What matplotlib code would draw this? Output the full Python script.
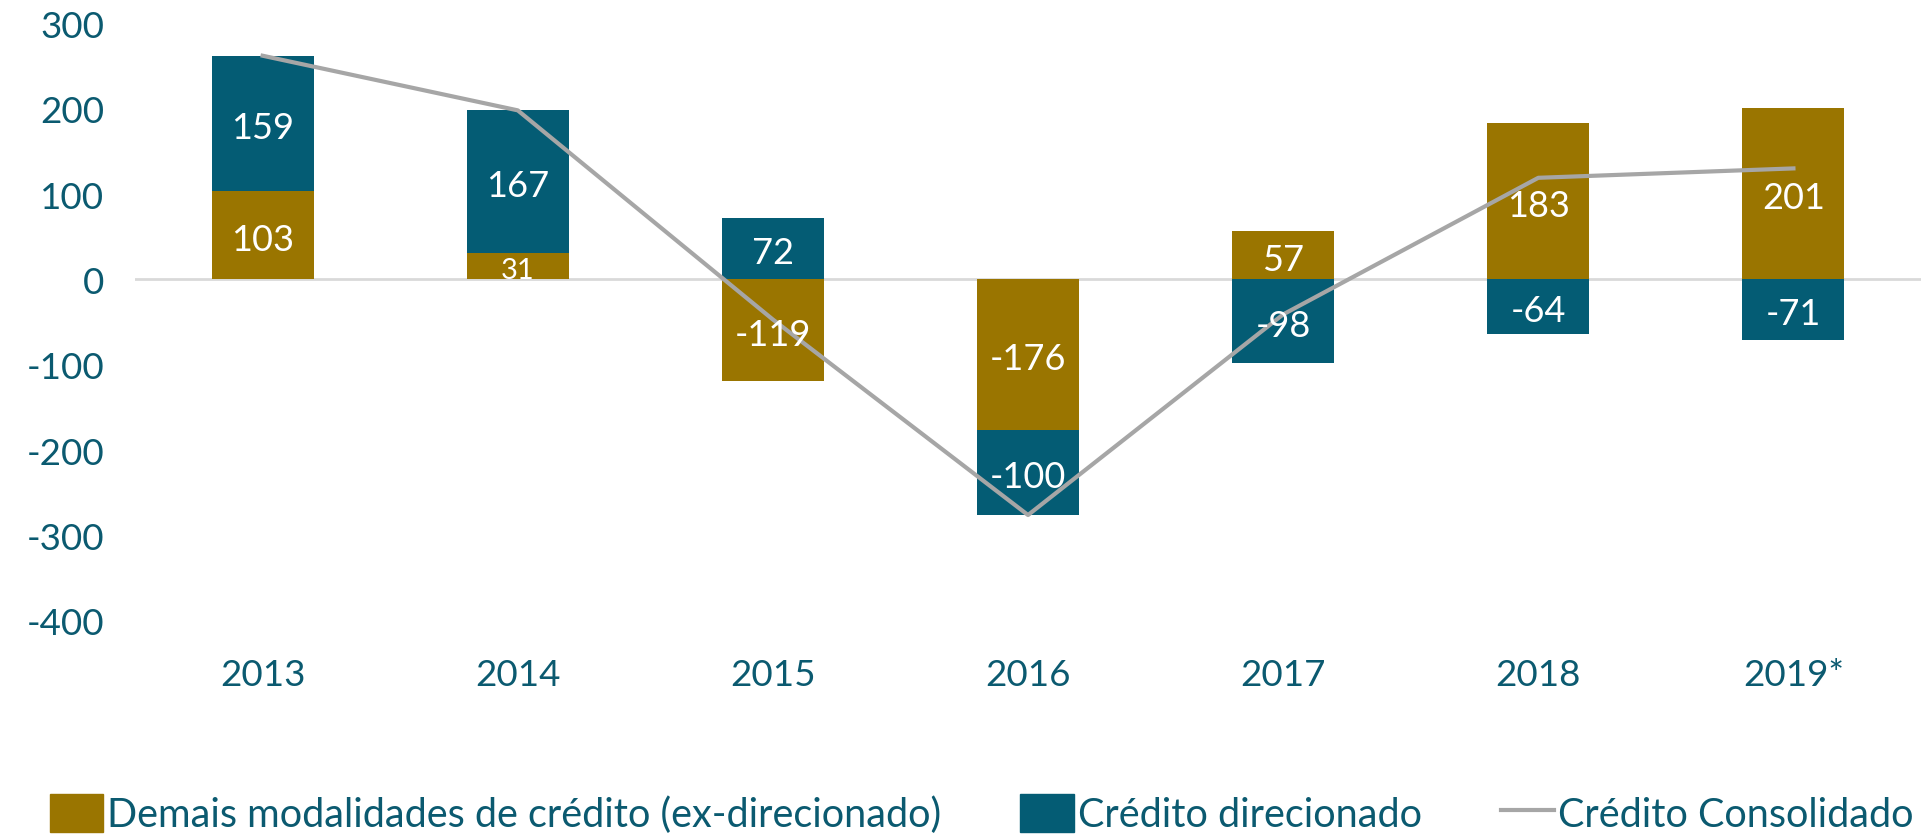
import matplotlib
matplotlib.use('Agg')
import matplotlib.pyplot as plt
from matplotlib.patches import Patch
from matplotlib.lines import Line2D
import numpy as np

# Dados do gráfico
anos = ['2013', '2014', '2015', '2016', '2017', '2018', '2019*']
demais = [103, 31, -119, -176, 57, 183, 201]
direcionado = [159, 167, 72, -100, -98, -64, -71]
consolidado = [262, 198, -47, -276, -41, 119, 130]

# Cores
gold = '#9A7500'
blue = '#045C74'
teal = '#0B5A70'
grey = '#A6A6A6'

plt.rcParams['font.family'] = ['Lato', 'DejaVu Sans']
plt.rcParams['axes.unicode_minus'] = False

fig = plt.figure(figsize=(19.21, 8.37), dpi=100)
ax = fig.add_axes([0.0703, 0.257, 0.9297, 0.714])

x = np.arange(len(anos))
w = 0.4
demais = np.array(demais)
direcionado = np.array(direcionado)

# empilhamento separado para positivos e negativos
pos_base = np.zeros(len(x))
neg_base = np.zeros(len(x))
for vals, cor in [(demais, gold), (direcionado, blue)]:
    bottoms = np.where(vals >= 0, pos_base, neg_base)
    ax.bar(x, vals, w, bottom=bottoms, color=cor, zorder=2)
    for xi, b, v in zip(x, bottoms, vals):
        fs = 21 if abs(v) < 40 else 26
        ax.annotate(str(v), (xi, b + v / 2), xytext=(0, -3),
                    textcoords='offset points', ha='center', va='center',
                    color='white', fontsize=fs, zorder=4)
    pos_base = pos_base + np.where(vals >= 0, vals, 0)
    neg_base = neg_base + np.where(vals < 0, vals, 0)

ax.plot(x, consolidado, color=grey, lw=3, zorder=3)
ax.axhline(0, color='#D9D9D9', lw=2, zorder=1)

ax.set_xlim(-0.5, 6.5)
ax.set_ylim(-400, 300)
ax.set_yticks(range(-400, 301, 100))
ax.set_xticks(x)
ax.set_xticklabels(anos)
for s in ax.spines.values():
    s.set_visible(False)
ax.tick_params(axis='both', length=0, labelsize=26.5, colors=teal)
ax.tick_params(axis='y', pad=22)
ax.tick_params(axis='x', pad=27)

handles = [Patch(color=gold), Patch(color=blue),
           Line2D([0], [0], color=grey, lw=3)]
labels = ['Demais modalidades de crédito (ex-direcionado)',
          'Crédito direcionado', 'Crédito Consolidado']
leg = fig.legend(handles, labels, loc='center', bbox_to_anchor=(0.511, 0.027),
                 ncol=3, frameon=False, fontsize=28.5, handlelength=1.35,
                 handleheight=1.1, handletextpad=0.1, columnspacing=2.0,
                 borderaxespad=0)
for t in leg.get_texts():
    t.set_color(teal)

fig.savefig('out.png', dpi=100)
